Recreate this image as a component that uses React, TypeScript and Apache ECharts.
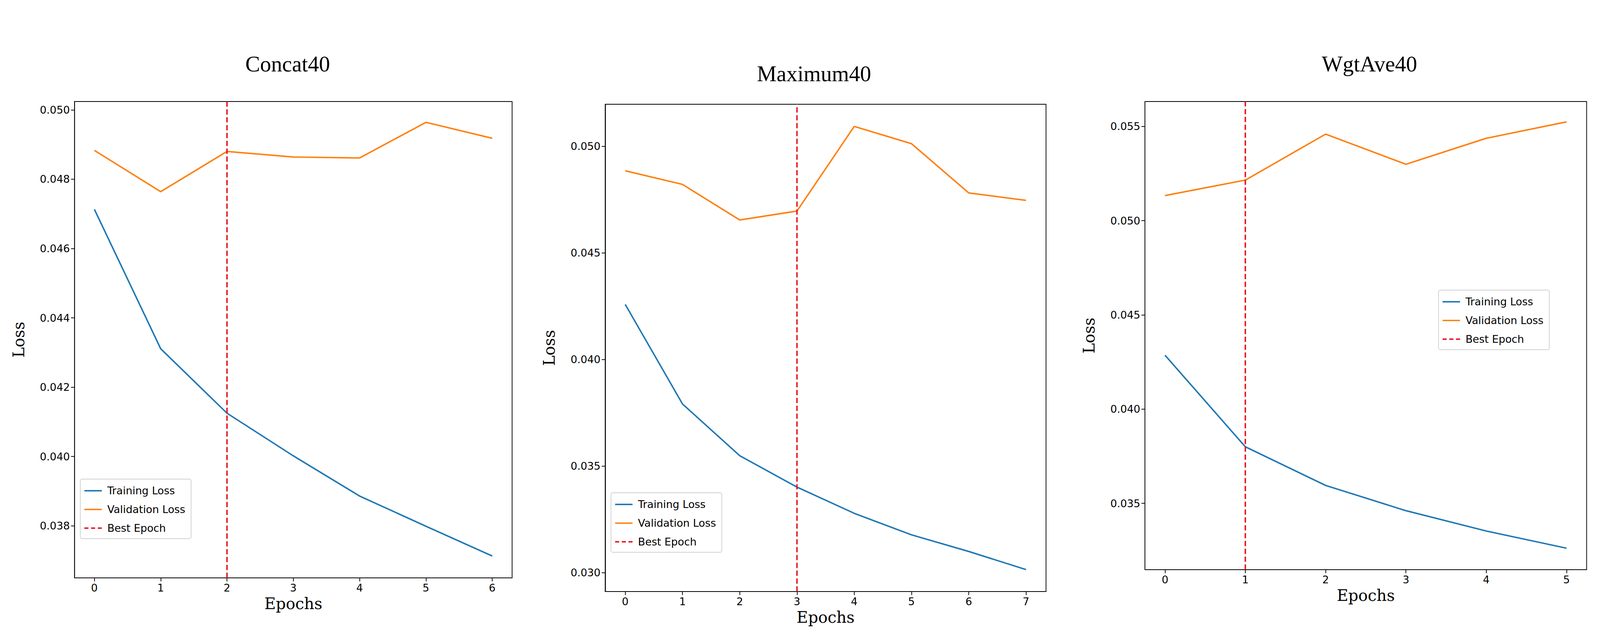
import { useEffect, useRef } from 'react';
import * as echarts from 'echarts';

const titles = ['Concat40', 'Maximum40', 'WgtAve40'];
const bestEpochs = [2, 3, 1];

const trainConcat = [0.04713, 0.04311, 0.04125, 0.04002, 0.03886, 0.03799, 0.03713];
const valConcat = [0.04883, 0.04764, 0.0488, 0.04864, 0.04861, 0.04964, 0.04918];
const trainMax = [0.04258, 0.03791, 0.03548, 0.03401, 0.03278, 0.03177, 0.03099, 0.03014];
const valMax = [0.04885, 0.04821, 0.04654, 0.04696, 0.05093, 0.05012, 0.04781, 0.04746];
const trainWgt = [0.04286, 0.038, 0.03595, 0.03461, 0.03353, 0.03262];
const valWgt = [0.05133, 0.05215, 0.05459, 0.05299, 0.05437, 0.05524];

const yTicks = [
  [0.038, 0.04, 0.042, 0.044, 0.046, 0.048, 0.05],
  [0.03, 0.035, 0.04, 0.045, 0.05],
  [0.035, 0.04, 0.045, 0.05, 0.055],
];
const yRanges = [
  [0.0365, 0.05024],
  [0.02911, 0.05197],
  [0.03148, 0.05632],
];

const trains = [trainConcat, trainMax, trainWgt];
const vals = [valConcat, valMax, valWgt];

// plot boxes in reference pixels (5499 x 1634)
const boxes = [
  { left: 256, top: 260, width: 1504, height: 1220 },
  { left: 2080, top: 267, width: 1515, height: 1248 },
  { left: 3935, top: 260, width: 1518, height: 1199 },
];
const titlePos = [
  { x: 982, y: 130 },
  { x: 2791, y: 155 },
  { x: 4700, y: 130 },
];

const BLUE = '#1f77b4';
const ORANGE = '#ff7f0e';
const RED = '#e8141e';

const App = () => {
  const ref = useRef<HTMLDivElement>(null);

  useEffect(() => {
    if (!ref.current) return;
    document.body.style.margin = '0';
    document.body.style.overflow = 'hidden';
    const W = ref.current.clientWidth;
    const H = ref.current.clientHeight;
    const sx = W / 5499;
    const sy = H / 1634;
    const s = Math.min(sx, sy);
    const X = (v: number) => v * sx;
    const Y = (v: number) => v * sy;
    const F = (v: number) => v * s;

    const chart = echarts.init(ref.current, undefined, { renderer: 'svg' });

    const lw = F(5);
    const iw = F(60);
    const ih = F(5);
    const solidIcon = `path://M0,0 L60,0 L60,5 L0,5 Z`;
    const dashIcon = `path://M0,0 L14,0 L14,5 L0,5 Z M23,0 L37,0 L37,5 L23,5 Z M46,0 L60,0 L60,5 L46,5 Z`;

    const grids: any[] = [];
    const xAxes: any[] = [];
    const yAxes: any[] = [];
    const series: any[] = [];
    const legends: any[] = [];
    const titleOpts: any[] = [];

    const axisCommon = {
      axisLine: { show: true, onZero: false, lineStyle: { color: '#000', width: F(2.5) } },
      splitLine: { show: false },
    };

    trains.forEach((train, i) => {
      const n = train.length;
      const epochs = train.map((_, k) => k);
      const pad = (n - 1) * 0.05;
      const b = boxes[i];
      grids.push({
        left: X(b.left),
        top: Y(b.top),
        width: X(b.width),
        height: Y(b.height),
        show: true,
        borderColor: '#000',
        borderWidth: F(2.5),
        backgroundColor: '#fff',
      });
      xAxes.push({
        type: 'value',
        gridIndex: i,
        min: -pad,
        max: n - 1 + pad,
        name: 'Epochs',
        nameLocation: 'middle',
        nameGap: F(62),
        nameTextStyle: { fontFamily: 'DejaVu Serif', fontSize: F(54), color: '#000' },
        ...axisCommon,
        axisTick: { show: true, length: F(12), lineStyle: { color: '#000', width: F(2.5) }, customValues: epochs },
        axisLabel: { fontFamily: 'DejaVu Sans', fontSize: F(36), color: '#000', margin: F(16), customValues: epochs },
      });
      yAxes.push({
        type: 'value',
        gridIndex: i,
        min: yRanges[i][0],
        max: yRanges[i][1],
        name: 'Loss',
        nameLocation: 'middle',
        nameGap: F(165),
        nameTextStyle: { fontFamily: 'DejaVu Serif', fontSize: F(54), color: '#000' },
        ...axisCommon,
        axisTick: { show: true, length: F(12), lineStyle: { color: '#000', width: F(2.5) }, customValues: yTicks[i] },
        axisLabel: {
          fontFamily: 'DejaVu Sans',
          fontSize: F(36),
          color: '#000',
          margin: F(16),
          customValues: yTicks[i],
          formatter: (v: number) => v.toFixed(3),
        },
      });
      series.push(
        {
          name: 'Training Loss',
          type: 'line',
          xAxisIndex: i,
          yAxisIndex: i,
          data: train.map((v, k) => [k, v]),
          showSymbol: false,
          lineStyle: { color: BLUE, width: lw },
          itemStyle: { color: BLUE },
        },
        {
          name: 'Validation Loss',
          type: 'line',
          xAxisIndex: i,
          yAxisIndex: i,
          data: vals[i].map((v, k) => [k, v]),
          showSymbol: false,
          lineStyle: { color: ORANGE, width: lw },
          itemStyle: { color: ORANGE },
        },
        {
          name: 'Best Epoch',
          type: 'line',
          xAxisIndex: i,
          yAxisIndex: i,
          data: [
            [bestEpochs[i], yRanges[i][0]],
            [bestEpochs[i], yRanges[i][1]],
          ],
          showSymbol: false,
          lineStyle: { color: RED, width: lw, type: [F(18), F(9)] },
          itemStyle: { color: RED },
          z: 3,
        }
      );
      const legendPos =
        i === 2
          ? { left: X(4944), top: Y(743) }
          : { left: X(b.left + 20), top: Y(b.top + b.height - 253) };
      legends.push({
        ...legendPos,
        orient: 'vertical',
        itemWidth: iw,
        itemHeight: ih,
        itemGap: F(28),
        padding: [F(22), F(20), F(18), F(14)],
        backgroundColor: '#fff',
        borderColor: '#d0d0d0',
        borderWidth: F(2.5),
        borderRadius: F(6),
        textStyle: { fontFamily: 'DejaVu Sans', fontSize: F(36), color: '#000', padding: [0, 0, 0, F(12)] },
        data: [
          { name: 'Training Loss', icon: solidIcon, itemStyle: { color: BLUE } },
          { name: 'Validation Loss', icon: solidIcon, itemStyle: { color: ORANGE } },
          { name: 'Best Epoch', icon: dashIcon, itemStyle: { color: RED } },
        ],
        selectedMode: false,
      });
      titleOpts.push({
        text: titles[i],
        left: X(titlePos[i].x),
        top: Y(titlePos[i].y),
        textAlign: 'center',
        textStyle: { fontFamily: 'Liberation Serif', fontSize: F(76), fontWeight: 'normal', color: '#000' },
      });
    });

    chart.setOption({
      animation: false,
      backgroundColor: '#fff',
      title: titleOpts,
      grid: grids,
      xAxis: xAxes,
      yAxis: yAxes,
      legend: legends,
      series,
    });

    return () => chart.dispose();
  }, []);

  return <div ref={ref} style={{ width: '100vw', height: '100vh' }} />;
};

export default App;
